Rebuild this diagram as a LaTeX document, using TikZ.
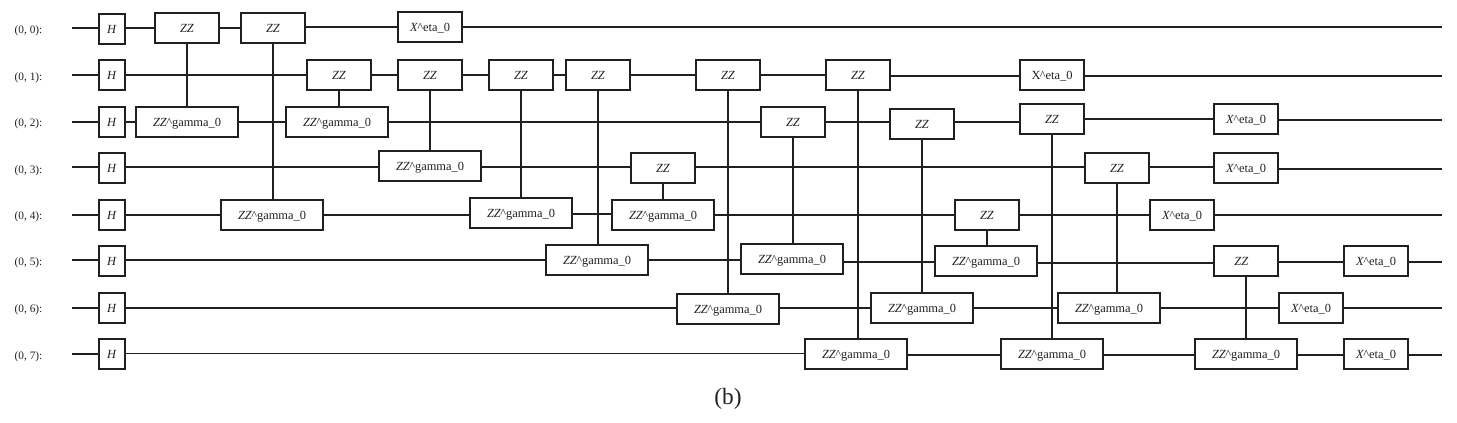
\documentclass[tikz,border=0pt]{standalone}
\usepackage{fontspec}
\setmainfont{Liberation Serif}
\definecolor{ink}{HTML}{231F20}
\newcommand{\zzg}{\textit{ZZ}\kern-0.5pt\textasciicircum gamma\_0}
\newcommand{\xeta}{\textit{X}\kern-0.5pt\textasciicircum eta\_0}
\tikzset{
  gate/.style={draw=ink,line width=1.7pt,fill=white,text=ink,inner sep=0pt,minimum height=23pt,text height=6.6pt,text depth=0pt,font=\fontsize{9.3}{11}\selectfont},
  hg/.style={gate,minimum width=19.5pt},
  zg/.style={gate,minimum width=48pt},
  wg/.style={gate,minimum width=76.5pt},
  lab/.style={text=ink,font=\fontsize{8.5}{10}\selectfont,inner sep=0pt,text height=6pt,text depth=0pt},
  wire/.style={draw=ink,line width=1.55pt},
  thinwire/.style={draw=ink,line width=0.8pt}
}
\begin{document}
\begin{tikzpicture}[x=0.75pt,y=-0.75pt]
\useasboundingbox (0,0) rectangle (1457,422);
\foreach \r/\y/\ly/\sy/\ey in {0/29/29/28/27,1/75/76/75/76,2/122/122.5/122/120,3/168/169/167/169,4/215/215.5/215/215,5/261/261.5/260/262,6/308/308.5/308/308,7/354/355/354/355}{
  \node[lab] (l\r) at (28.5,\ly) {(0, \r):};
  \node[hg] (h\r) at (112,\y) {\textit{H}};
  \coordinate (s\r) at (72,\sy);
  \coordinate (e\r) at (1442,\ey);
}
% row 0
\node[zg] (a1) at (187,28) {\textit{ZZ}};
\node[zg] (a2) at (273,28) {\textit{ZZ}};
\node[zg] (a3) at (430,27) {\xeta};
% row 1
\node[zg] (b1) at (339,75) {\textit{ZZ}};
\node[zg] (b2) at (430,75) {\textit{ZZ}};
\node[zg] (b3) at (521,75) {\textit{ZZ}};
\node[zg] (b4) at (598,75) {\textit{ZZ}};
\node[zg] (b5) at (728,75) {\textit{ZZ}};
\node[zg] (b6) at (858,75) {\textit{ZZ}};
\node[zg] (b7) at (1052,75) {X\kern-0.5pt\textasciicircum eta\_0};
% row 2
\node[wg] (c1) at (187,122) {\zzg};
\node[wg] (c2) at (337,122) {\zzg};
\node[zg] (c3) at (793,122) {\textit{ZZ}};
\node[zg] (c4) at (922,124) {\textit{ZZ}};
\node[zg] (c5) at (1052,119) {\textit{ZZ}};
\node[zg] (c6) at (1246,119) {\xeta};
% row 3
\node[wg] (d1) at (430,166) {\zzg};
\node[zg] (d2) at (663,168) {\textit{ZZ}};
\node[zg] (d3) at (1117,168) {\textit{ZZ}};
\node[zg] (d4) at (1246,168) {\xeta};
% row 4
\node[wg] (f1) at (272,215) {\zzg};
\node[wg] (f2) at (521,213) {\zzg};
\node[wg] (f3) at (663,215) {\zzg};
\node[zg] (f4) at (987,215) {\textit{ZZ}};
\node[zg] (f5) at (1182,215) {\xeta};
% row 5
\node[wg] (g1) at (597,260) {\zzg};
\node[wg] (g2) at (792,259) {\zzg};
\node[wg] (g3) at (986,261) {\zzg};
\node[zg] (g4) at (1246,261) {\textit{ZZ}\kern7pt};
\node[zg] (g5) at (1376,261) {\xeta};
% row 6
\node[wg] (i1) at (728,309) {\zzg};
\node[wg] (i2) at (922,308) {\zzg};
\node[wg] (i3) at (1109,308) {\zzg};
\node[zg] (i4) at (1311,308) {\xeta};
% row 7
\node[wg] (j1) at (856,354) {\zzg};
\node[wg] (j2) at (1052,354) {\zzg};
\node[wg] (j3) at (1246,354) {\zzg};
\node[zg] (j4) at (1376,354) {\xeta};
\node[text=ink,font=\fontsize{17.5}{20}\selectfont,inner sep=0pt] (cap) at (728,399) {(b)};
% wires: entry, gate-to-gate segments, exit
\foreach \r/\g in {0/h0,1/h1,2/h2,3/h3,4/h4,5/h5,6/h6,7/h7}{
  \draw[wire] (s\r) -- (s\r -| \g.west);
}
\foreach \g/\r in {a3/0,b7/1,c6/2,d4/3,f5/4,g5/5,i4/6,j4/7}{
  \draw[wire] (\g.east |- e\r) -- (e\r);
}
\foreach \p/\q/\yy in {
  h0/a1/28,a1/a2/28,a2/a3/27,
  h1/b1/75,b1/b2/75,b2/b3/75,b3/b4/75,b4/b5/75,b5/b6/75,b6/b7/76,
  h2/c1/122,c1/c2/122,c2/c3/122,c3/c4/122,c4/c5/122,c5/c6/119,
  h3/d1/167,d1/d2/167,d2/d3/167,d3/d4/167,
  h4/f1/215,f1/f2/215,f2/f3/214,f3/f4/215,f4/f5/215,
  h5/g1/260,g1/g2/260,g2/g3/262,g3/g4/263,g4/g5/262,
  h6/i1/308,i1/i2/308,i2/i3/308,i3/i4/308,
  j1/j2/355,j2/j3/355,j3/j4/355}{
  \draw[wire] (\p.east |- 0,\yy) -- (\q.west |- 0,\yy);
}
\draw[thinwire] (h7.east |- 0,353.5) -- (j1.west |- 0,353.5);
% couplings
\foreach \p/\q in {a1/c1,a2/f1,b1/c2,b2/d1,b3/f2,b4/g1,b5/i1,b6/j1,c3/g2,c4/i2,c5/j2,d2/f3,d3/i3,f4/g3,g4/j3}{
  \draw[wire] (\p.south) -- (\p.south |- \q.north);
}
\end{tikzpicture}
\end{document}
